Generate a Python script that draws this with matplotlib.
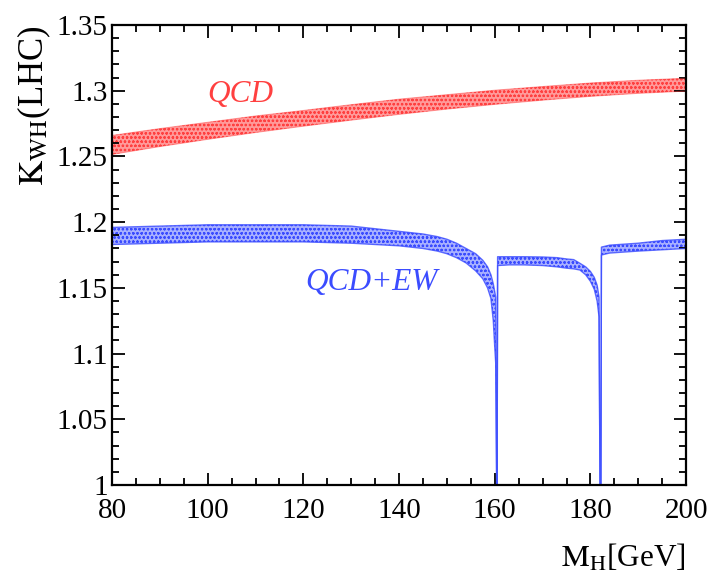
import numpy as np
import matplotlib
matplotlib.use("Agg")
import matplotlib.pyplot as plt
from matplotlib.ticker import MultipleLocator

plt.rcParams.update({"font.family": "Liberation Serif", "mathtext.fontset": "stix",
                     "hatch.linewidth": 0.6})

# ---- QCD band (red) ----
qcd_m  = [80, 90, 100, 110, 120, 130, 140, 150, 160, 170, 180, 190, 200]
qcd_lo = [1.2515, 1.2575, 1.2630, 1.2682, 1.2730, 1.2776, 1.2820, 1.2860, 1.2896, 1.2928, 1.2957, 1.2980, 1.2997]
qcd_hi = [1.2660, 1.2712, 1.2760, 1.2808, 1.2850, 1.2894, 1.2936, 1.2970, 1.3004, 1.3032, 1.3059, 1.3080, 1.3095]

# ---- QCD+EW band (blue), with the 2M_W and 2M_Z thresholds ----
ew_m  = [80, 90, 100, 110, 120, 130, 140, 145, 148, 150, 152, 154, 156, 157.5, 158.5, 159.2, 159.7, 160.0, 160.2,
         160.4, 160.5, 160.6, 163, 166, 170, 173, 175, 176.5, 177.8, 179, 180, 180.8, 181.4, 181.8,
         182.0, 182.2, 182.3, 184, 186, 190, 195, 200]
ew_lo = [1.183, 1.184, 1.185, 1.185, 1.185, 1.184, 1.182, 1.180, 1.178, 1.176, 1.173, 1.169, 1.163, 1.157, 1.150, 1.142, 1.125, 1.105, 1.093,
         1.0, 1.0, 1.167, 1.1675, 1.1675, 1.167, 1.166, 1.165, 1.1645, 1.1636, 1.160, 1.155, 1.149, 1.140, 1.128,
         1.0, 1.0, 1.175, 1.1765, 1.177, 1.178, 1.179, 1.180]
ew_hi = [1.196, 1.197, 1.198, 1.198, 1.198, 1.197, 1.193, 1.191, 1.189, 1.187, 1.184, 1.180, 1.176, 1.171, 1.166, 1.160, 1.153, 1.147, 1.143,
         1.0, 1.0, 1.1737, 1.1737, 1.1737, 1.1735, 1.173, 1.172, 1.1715, 1.1687, 1.166, 1.1625, 1.158, 1.152, 1.143,
         1.0, 1.0, 1.181, 1.1825, 1.183, 1.184, 1.186, 1.187]

RED = "#ff4040"; BLUE = "#3b4cff"

fig = plt.figure(figsize=(7.11, 5.79), dpi=100)
ax = fig.add_axes([0.1575, 0.1623, 0.8075, 0.7945])

ax.fill_between(qcd_m, qcd_lo, qcd_hi, facecolor="#ff9a9a", edgecolor=RED, hatch="oooo", linewidth=0)
ax.plot(qcd_m, qcd_lo, color=RED, lw=0.7, alpha=0.5)
ax.plot(qcd_m, qcd_hi, color=RED, lw=0.7, alpha=0.5)

ax.fill_between(ew_m, ew_lo, ew_hi, facecolor="#a8b0ff", edgecolor=BLUE, hatch="oooo", linewidth=0)
ax.plot(ew_m, ew_lo, color=BLUE, lw=1.0, alpha=0.8)
ax.plot(ew_m, ew_hi, color=BLUE, lw=1.0, alpha=0.8)

ax.text(106.8, 1.2916, "QCD", color=RED, fontsize=22.5, style="italic", ha="center", va="baseline")
ax.text(134.2, 1.1483, "QCD+EW", color=BLUE, fontsize=22.5, style="italic", ha="center", va="baseline")

ax.set_xlim(80, 200); ax.set_ylim(1.0, 1.35)
ax.xaxis.set_major_locator(MultipleLocator(20)); ax.xaxis.set_minor_locator(MultipleLocator(5))
ax.yaxis.set_major_locator(MultipleLocator(0.05)); ax.yaxis.set_minor_locator(MultipleLocator(0.01))
ax.set_xticks([80, 100, 120, 140, 160, 180, 200], labels=["80", "100", "120", "140", "160", "180", "200"])
ax.set_yticks([1.0, 1.05, 1.1, 1.15, 1.2, 1.25, 1.3, 1.35],
              labels=["1", "1.05", "1.1", "1.15", "1.2", "1.25", "1.3", "1.35"])
ax.tick_params(which="both", direction="in", top=True, right=True, width=1.3, labelsize=21)
ax.tick_params(which="major", length=9)
ax.tick_params(which="minor", length=5)
ax.tick_params(axis="x", which="major", pad=9)
ax.tick_params(axis="y", which="major", pad=3)
for sp in ax.spines.values(): sp.set_linewidth(1.6)

ax.set_xlabel(r"$\mathrm{M_H}$[GeV]", fontsize=22.5, loc="right", labelpad=14)
ax.set_ylabel(r"$\mathrm{K_{WH}}$(LHC)", fontsize=25, loc="top", labelpad=3)

fig.savefig("out.png", dpi=100)
